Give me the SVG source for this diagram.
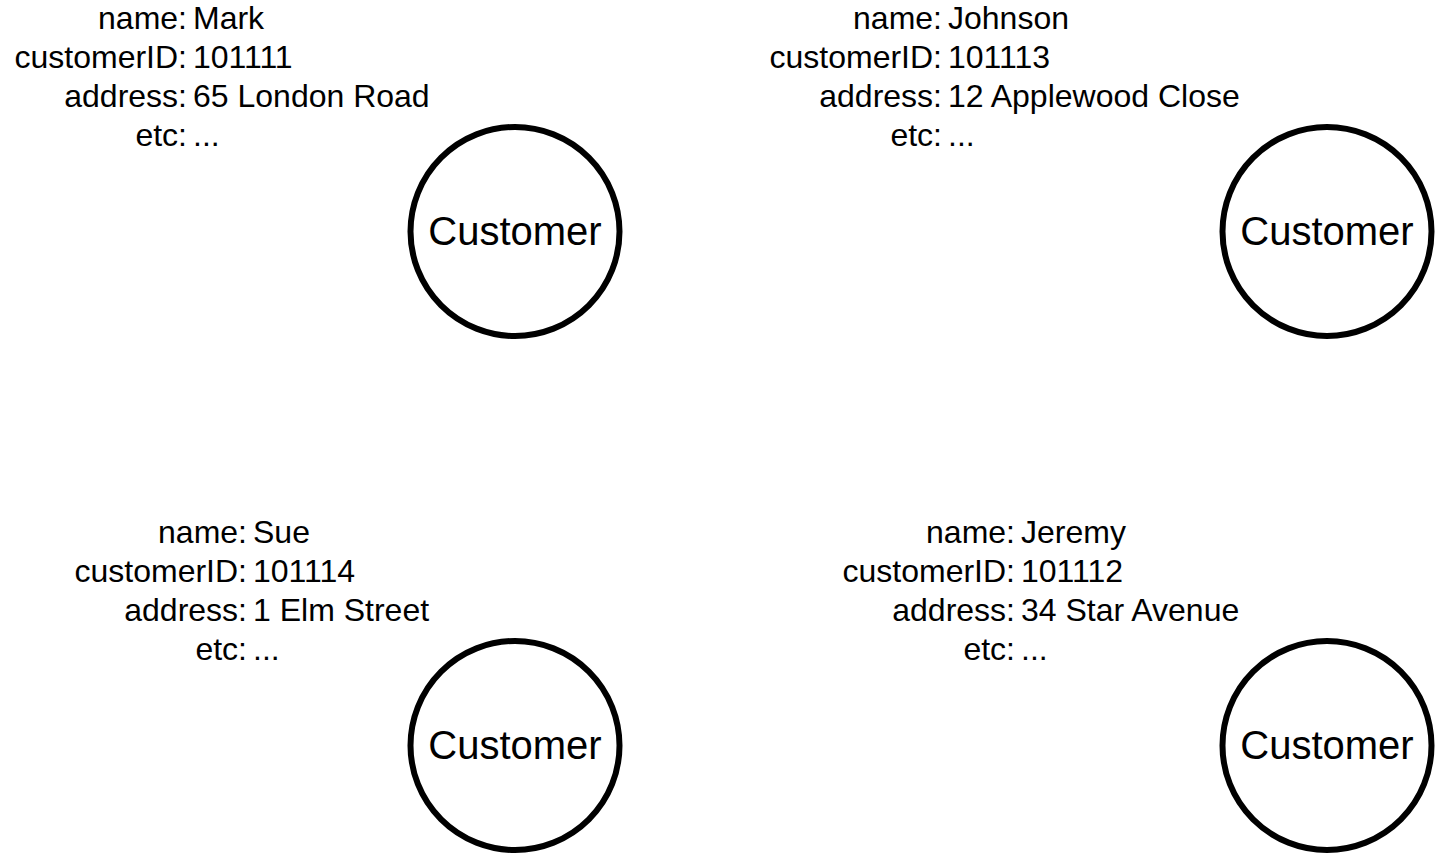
<svg xmlns="http://www.w3.org/2000/svg" width="1436" height="855" viewBox="0 0 1436 855">
<style>
  .bg { fill: #ffffff; }
  .node { fill: #ffffff; stroke: #000000; stroke-width: 6; }
  .label { font-family: "Liberation Sans", Arial, sans-serif; font-size: 40px; fill: #000000; text-anchor: middle; }
  .key { font-family: "Liberation Sans", Arial, sans-serif; font-size: 32px; fill: #000000; text-anchor: end; }
  .val { font-family: "Liberation Sans", Arial, sans-serif; font-size: 32px; fill: #000000; text-anchor: start; }
</style>
<rect class="bg" x="0" y="0" width="1436" height="855"/>
<g id="connectors"></g>

<g id="customer-mark">
  <circle class="node" cx="515" cy="231.5" r="104.5"/>
  <text class="label" x="515" y="245">Customer</text>
  <g id="props-mark">
    <text class="key" x="187" y="29">name:</text><text class="val" x="193" y="29">Mark</text>
    <text class="key" x="187" y="68">customerID:</text><text class="val" x="193" y="68">101111</text>
    <text class="key" x="187" y="107">address:</text><text class="val" x="193" y="107">65 London Road</text>
    <text class="key" x="187" y="146">etc:</text><text class="val" x="193" y="146">...</text>
  </g>
</g>

<g id="customer-johnson">
  <circle class="node" cx="1327" cy="231.5" r="104.5"/>
  <text class="label" x="1327" y="245">Customer</text>
  <g id="props-johnson">
    <text class="key" x="942" y="29">name:</text><text class="val" x="948" y="29">Johnson</text>
    <text class="key" x="942" y="68">customerID:</text><text class="val" x="948" y="68">101113</text>
    <text class="key" x="942" y="107">address:</text><text class="val" x="948" y="107">12 Applewood Close</text>
    <text class="key" x="942" y="146">etc:</text><text class="val" x="948" y="146">...</text>
  </g>
</g>

<g id="customer-sue">
  <circle class="node" cx="515" cy="745.5" r="104.5"/>
  <text class="label" x="515" y="759">Customer</text>
  <g id="props-sue">
    <text class="key" x="247" y="543">name:</text><text class="val" x="253" y="543">Sue</text>
    <text class="key" x="247" y="582">customerID:</text><text class="val" x="253" y="582">101114</text>
    <text class="key" x="247" y="621">address:</text><text class="val" x="253" y="621">1 Elm Street</text>
    <text class="key" x="247" y="660">etc:</text><text class="val" x="253" y="660">...</text>
  </g>
</g>

<g id="customer-jeremy">
  <circle class="node" cx="1327" cy="745.5" r="104.5"/>
  <text class="label" x="1327" y="759">Customer</text>
  <g id="props-jeremy">
    <text class="key" x="1015" y="543">name:</text><text class="val" x="1021" y="543">Jeremy</text>
    <text class="key" x="1015" y="582">customerID:</text><text class="val" x="1021" y="582">101112</text>
    <text class="key" x="1015" y="621">address:</text><text class="val" x="1021" y="621">34 Star Avenue</text>
    <text class="key" x="1015" y="660">etc:</text><text class="val" x="1021" y="660">...</text>
  </g>
</g>
</svg>
